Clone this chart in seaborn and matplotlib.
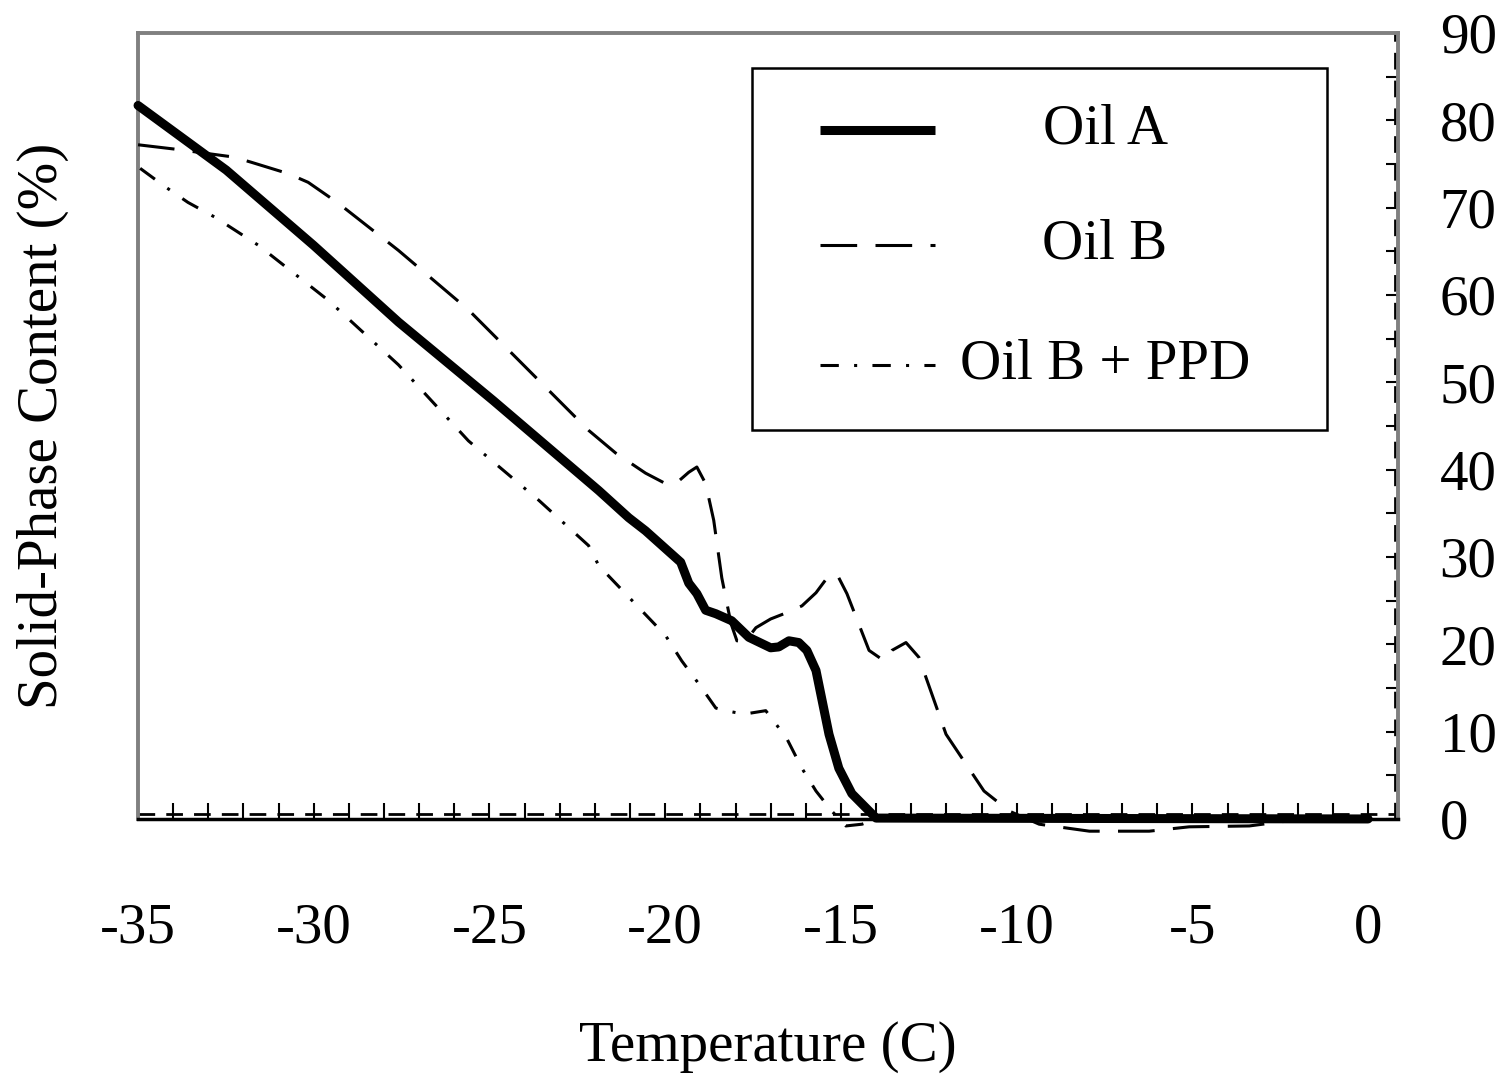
import numpy as np
import pandas as pd
import matplotlib
matplotlib.use("Agg")
import matplotlib.pyplot as plt
from matplotlib.patches import Rectangle
from matplotlib.ticker import MultipleLocator
import seaborn as sns

# data
oil_a_t = [-35.0, -32.49, -30.01, -27.59, -24.89, -21.89, -21.04, -20.56, -19.56,
           -19.33, -19.10, -18.85, -18.56, -18.11, -17.62, -17.0, -16.77, -16.48, -16.20,
           -15.97, -15.71, -15.34, -15.06, -14.69, -14.0, 0.0]
oil_a_s = [81.7, 74.3, 65.7, 56.9, 47.9, 37.6, 34.5, 33.0, 29.4,
           27.0, 25.8, 23.9, 23.5, 22.7, 20.8, 19.6, 19.7, 20.4, 20.2,
           19.3, 17.0, 9.7, 5.8, 2.9, 0.1, 0.0]

oil_b_t = [-35.0, -33.95, -32.29, -31.78, -30.73, -30.16, -29.30, -27.59, -25.60, -23.89,
           -22.18, -21.41, -20.56, -19.99, -19.70, -19.33, -19.10, -18.85, -18.62, -18.39,
           -18.13, -17.96, -17.71, -17.42, -17.0, -16.62, -16.11, -15.71, -15.34, -15.11,
           -14.83, -14.20, -13.77, -13.55, -13.15, -12.78, -12.58, -12.01, -10.93, -10.21,
           -9.36, -7.93, -6.23, -5.09, -3.38, -2.24, 0.0]
oil_b_s = [77.2, 76.7, 75.8, 75.2, 73.9, 72.9, 70.5, 65.1, 58.3, 51.4,
           44.5, 41.9, 39.6, 38.4, 38.4, 39.7, 40.3, 38.4, 34.2, 27.6,
           22.4, 20.4, 20.4, 21.9, 22.9, 23.5, 24.4, 25.9, 27.9, 28.0,
           25.8, 19.3, 18.1, 19.3, 20.2, 18.5, 16.2, 9.7, 3.2, 0.9,
           -0.6, -1.4, -1.4, -0.9, -0.8, -0.2, 0.0]

oil_bp_t = [-34.94, -34.23, -33.58, -32.81, -31.58, -29.59, -27.59, -25.60, -23.60, -22.18,
            -21.89, -21.13, -19.99, -19.53, -19.05, -18.56, -18.28, -17.76, -17.14, -16.91,
            -16.54, -16.11, -15.71, -15.26, -14.86, -14.40, -14.0, 0.0]
oil_bp_s = [74.5, 72.4, 70.6, 68.9, 65.7, 59.4, 52.0, 43.3, 36.5, 31.3,
            29.0, 25.8, 21.0, 18.1, 15.5, 12.7, 12.4, 12.0, 12.4, 11.2,
            9.2, 5.8, 3.2, 0.9, -0.8, -0.6, 0.0, 0.0]

series_names = ["Oil A", "Oil B", "Oil B + PPD"]
x_ticks = [-35, -30, -25, -20, -15, -10, -5, 0]
y_ticks = [0, 10, 20, 30, 40, 50, 60, 70, 80, 90]

sns.set_style("white")
plt.rcParams['font.family'] = ['Liberation Serif', 'DejaVu Serif']
plt.rcParams['axes.unicode_minus'] = False
plt.rcParams['text.color'] = 'black'
plt.rcParams['axes.labelcolor'] = 'black'
plt.rcParams['xtick.color'] = 'black'
plt.rcParams['ytick.color'] = 'black'
FS = 41

fig = plt.figure(figsize=(15.12, 10.85), dpi=100)
ax = fig.add_axes([0.0913, 0.2452, 0.8333, 0.7244])

styles = [
    dict(color="black", linewidth=6.5, linestyle="-"),
    dict(color="black", linewidth=2.2, linestyle=(0, (12, 6))),
    dict(color="black", linewidth=2.2, linestyle=(0, (6, 5, 1, 5))),
]
frames = [
    pd.DataFrame({"t": oil_a_t, "s": oil_a_s}),
    pd.DataFrame({"t": oil_b_t, "s": oil_b_s}),
    pd.DataFrame({"t": oil_bp_t, "s": oil_bp_s}),
]
for df, st in zip(frames, styles):
    sns.lineplot(data=df, x="t", y="s", ax=ax, estimator=None, sort=False,
                 clip_on=False, zorder=3, solid_capstyle="round", **st)

ax.set_xlim(-35, 0.85)
ax.set_ylim(0, 90)

# axis lines at y=0 and on the right
ax.axhline(0.55, color="black", lw=2, linestyle=(0, (6, 4)), zorder=2)
ax.axvline(0.77, color="black", lw=2, linestyle=(0, (6, 4)), zorder=2)

for side in ["left", "top", "right"]:
    ax.spines[side].set_color("#808080")
    ax.spines[side].set_linewidth(2.8)
ax.spines["bottom"].set_color("black")
ax.spines["bottom"].set_linewidth(2.5)

ax.set_xticks(x_ticks)
ax.set_xticklabels([str(v) for v in x_ticks])
ax.xaxis.set_minor_locator(MultipleLocator(1))
ax.tick_params(axis="x", which="both", direction="in", length=11.5, width=1.5,
               color="black", labelcolor="black", pad=60, labelsize=FS,
               bottom=True, top=False)

ax.yaxis.tick_right()
ax.set_yticks(y_ticks)
ax.set_yticklabels([str(v) for v in y_ticks])
ax.yaxis.set_minor_locator(MultipleLocator(5))
ax.tick_params(axis="y", which="both", direction="in", length=8.5, width=1.5,
               color="black", labelcolor="black", pad=30, labelsize=FS,
               right=True, left=False)

ax.set_xlabel("Temperature (C)", fontsize=FS, labelpad=48, color="black")
ax.set_ylabel("Solid-Phase Content (%)", fontsize=FS, labelpad=50, color="black")
ax.yaxis.set_label_position("left")

# legend box
ax.add_patch(Rectangle((0.4873, 0.4949), 0.4564, 0.4606, transform=ax.transAxes,
                       facecolor="white", edgecolor="black", lw=1.8, zorder=5))
leg_y = [0.8766, 0.7303, 0.5776]
for name, st, yy in zip(series_names, styles, leg_y):
    ax.plot([0.5413, 0.6325], [yy, yy], transform=ax.transAxes, zorder=6,
            solid_capstyle="butt", **st)
    ax.text(0.7675, yy, name, transform=ax.transAxes, ha="center", va="center",
            fontsize=FS, zorder=6, color="black")

fig.savefig("out.png", dpi=100)
